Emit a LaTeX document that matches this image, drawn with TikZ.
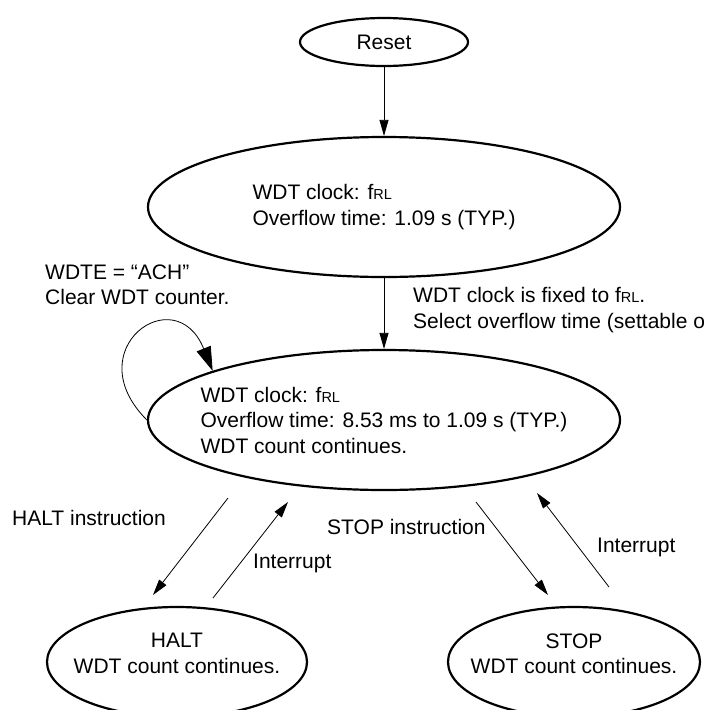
\documentclass[tikz,border=0pt]{standalone}
\usepackage{fontspec}
\setmainfont{Liberation Sans}
\usetikzlibrary{shapes.geometric,arrows.meta}
\newcommand{\frl}{f{\fontsize{14.5}{14.5}\selectfont RL}}

\begin{document}
\begin{tikzpicture}[
  x=1pt, y=1pt, font=\fontsize{21}{25.5}\selectfont, >={Triangle[length=16pt,width=9pt]},
  state/.style={ellipse,draw=black,line width=2.2pt,inner sep=0pt,align=center},
  wide/.style={state,minimum width=472pt,minimum height=140pt,align=left,inner xsep=-18pt},
  mode/.style={state,minimum width=260pt,minimum height=110pt,text depth=17pt,inner xsep=-13pt},
  lbl/.style={anchor=west,align=left,inner sep=0pt},
  arr/.style={->,draw=black,line width=0.8pt}]
\useasboundingbox (0,0) rectangle (705,-710);
\clip (0,0) rectangle (705,-710);
\node[state,minimum width=168pt,minimum height=48pt] (reset) at (384,-42) {Reset};
\node[wide] (init) at (384,-207) {WDT clock: \frl\\Overflow time: 1.09 s (TYP.)};
\node[wide] (run) at (384,-420) {WDT clock: \frl\\Overflow time: 8.53 ms to 1.09 s (TYP.)\\WDT count continues.};
\node[mode] (halt) at (177,-662) {HALT\\WDT count continues.};
\node[mode,minimum width=252pt,inner xsep=-16pt] (stop) at (574,-662) {STOP\\WDT count continues.};
\node[lbl] (clr) at (45,-285) {WDTE = “ACH”\\Clear WDT counter.};
\node[lbl] (fix) at (413,-310) {WDT clock is fixed to \frl.\\Select overflow time (settable only once).};
\node[lbl] (hin) at (12,-518) {HALT instruction};
\node[lbl] (hint) at (253,-563) {Interrupt};
\node[lbl] (sin) at (327,-527) {STOP instruction};
\node[lbl] (sint) at (597,-547) {Interrupt};
\coordinate (toHaltS) at (228,-498);
\coordinate (toHaltE) at (153,-595);
\coordinate (fromHaltS) at (213,-598);
\coordinate (fromHaltE) at (288,-502);
\coordinate (toStopS) at (476,-502);
\coordinate (toStopE) at (548,-595);
\coordinate (fromStopS) at (609,-587);
\coordinate (fromStopE) at (537,-493);
\draw[arr] (reset) -- (init);
\draw[arr] (init) -- (run);
\draw[arr,-{Triangle[length=24pt,width=15pt]}] (run.west) .. controls +(135:100pt) and +(112:100pt) .. (run.164);
\draw[arr] (toHaltS) -- (toHaltE);
\draw[arr] (fromHaltS) -- (fromHaltE);
\draw[arr] (toStopS) -- (toStopE);
\draw[arr] (fromStopS) -- (fromStopE);
\end{tikzpicture}
\end{document}
